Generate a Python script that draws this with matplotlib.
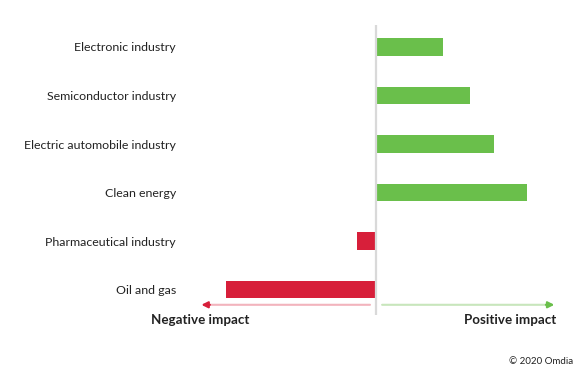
import matplotlib
matplotlib.use("Agg")
from matplotlib import pyplot as plt

plt.rcParams['font.family'] = ['Lato', 'DejaVu Sans']

categories = ["Electronic industry", "Semiconductor industry", "Electric automobile industry",
              "Clean energy", "Pharmaceutical industry", "Oil and gas"]
impact = [2.2, 3.1, 3.9, 5.0, -0.63, -4.97]

green = "#6ABF4B"
red = "#D71F3A"

fig = plt.figure(figsize=(5.83, 3.7), dpi=100)
ax = fig.add_axes([190 / 583, 1 - 315 / 370, 370 / 583, 290 / 370])

ypos = list(range(len(categories)))
colors = [green if v > 0 else red for v in impact]
ax.barh(ypos, impact, height=0.36, color=colors, zorder=2)
ax.axvline(0, color="#D9D9D9", lw=1.6, zorder=3)

ax.set_xlim(-6.16, 6.09)
ax.set_ylim(5.52, -0.45)
ax.set_yticks(ypos)
ax.set_yticklabels(categories, fontsize=8.9, color="#222222")
ax.tick_params(axis="y", length=0, pad=10)
ax.set_xticks([])
for s in ax.spines.values():
    s.set_visible(False)

# direction arrows
ax.annotate("", xy=(-5.78, 5.31), xytext=(-0.2, 5.31),
            arrowprops=dict(arrowstyle="-|>", color="#F2B4BD", lw=1.5, mutation_scale=9,
                            shrinkA=0, shrinkB=0), annotation_clip=False)
ax.annotate("", xy=(5.9, 5.31), xytext=(0.2, 5.31),
            arrowprops=dict(arrowstyle="-|>", color="#C8E6BC", lw=1.5, mutation_scale=9,
                            shrinkA=0, shrinkB=0), annotation_clip=False)
# arrow heads in full colour
ax.annotate("", xy=(-5.78, 5.31), xytext=(-5.5, 5.31),
            arrowprops=dict(arrowstyle="-|>", color=red, lw=1.5, mutation_scale=9,
                            shrinkA=0, shrinkB=0), annotation_clip=False)
ax.annotate("", xy=(5.9, 5.31), xytext=(5.62, 5.31),
            arrowprops=dict(arrowstyle="-|>", color=green, lw=1.5, mutation_scale=9,
                            shrinkA=0, shrinkB=0), annotation_clip=False)

fig.text(200 / 583, 1 - 320 / 370, "Negative impact", ha="center", va="center",
         fontsize=9.6, fontweight="bold", color="#222222")
fig.text(556 / 583, 1 - 320 / 370, "Positive impact", ha="right", va="center",
         fontsize=9.6, fontweight="bold", color="#222222")
fig.text(573 / 583, 1 - 362 / 370, "\u00a9 2020 Omdia", ha="right", va="center",
         fontsize=7, color="#222222")

fig.savefig("out.png", dpi=100)
